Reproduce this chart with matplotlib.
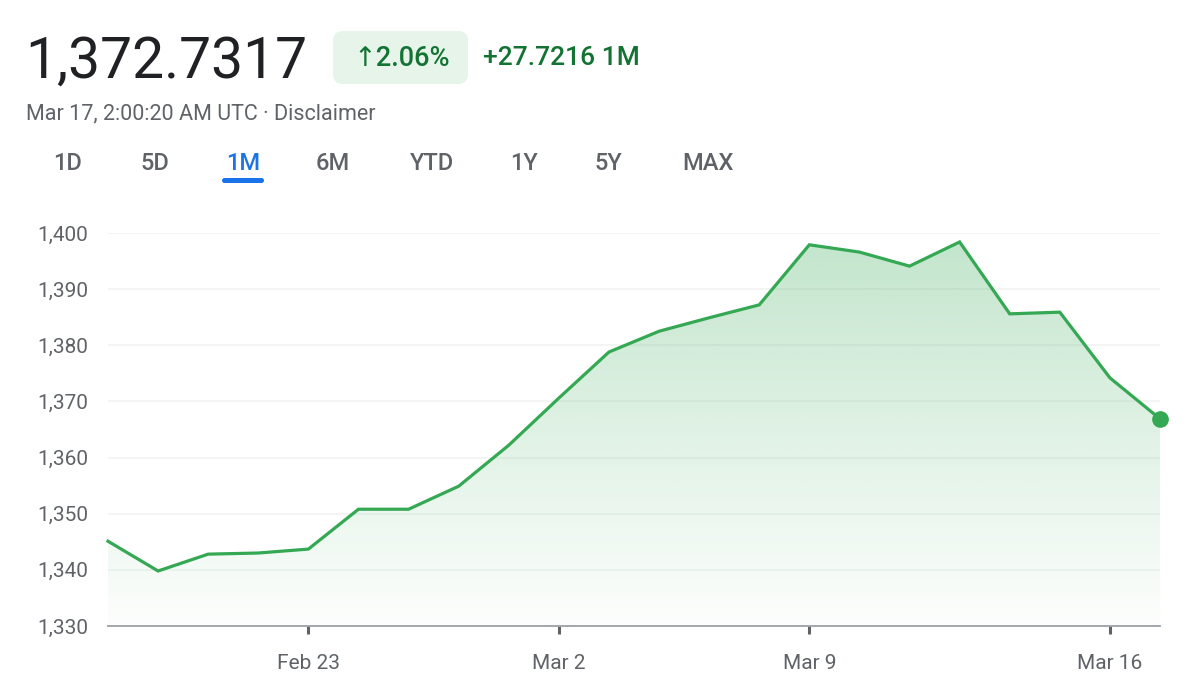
import numpy as np
import matplotlib
matplotlib.use("Agg")
import matplotlib.pyplot as plt
from matplotlib.patches import FancyBboxPatch
from matplotlib.colors import LinearSegmentedColormap

plt.rcParams["font.family"] = ["Roboto", "DejaVu Sans"]

# daily closes, one point per trading day
prices = [1345.1, 1339.8, 1342.8, 1343.0, 1343.7, 1350.8, 1350.8, 1354.9,
          1362.2, 1370.6, 1378.8, 1382.5, 1384.9, 1387.2, 1397.9, 1396.6,
          1394.1, 1398.4, 1385.6, 1385.9, 1374.2, 1366.9]
tick_idx = [4, 9, 14, 20]
tick_labels = ["Feb 23", "Mar 2", "Mar 9", "Mar 16"]
y_ticks = [1330, 1340, 1350, 1360, 1370, 1380, 1390, 1400]
tabs = ["1D", "5D", "1M", "6M", "YTD", "1Y", "5Y", "MAX"]
tab_x = [68, 155, 243, 333, 432, 524, 608, 708]

GREEN = "#34a853"
DARK_GREEN = "#137333"
GRAY = "#5f6368"
BLUE = "#1a73e8"

W, H = 1194, 700
fig = plt.figure(figsize=(W / 100, H / 100), dpi=100)

# header drawn in pixel coords on an overlay axes
hdr = fig.add_axes([0, 0, 1, 1])
hdr.set_xlim(0, W)
hdr.set_ylim(H, 0)
hdr.axis("off")

hdr.text(25, 62, "1,372.7317", fontsize=41, color="#202124", va="center", ha="left")
badge = FancyBboxPatch((333, 31), 135, 53, boxstyle="round,pad=0,rounding_size=10",
                       fc="#e6f4ea", ec="none")
hdr.add_patch(badge)
hdr.text(402, 58, "↑2.06%", fontsize=19.5, color=DARK_GREEN, va="center", ha="center",
         fontweight="medium")
hdr.text(483, 58, "+27.7216 1M", fontsize=19, color=DARK_GREEN, va="center", ha="left",
         fontweight="medium")
hdr.text(26, 114, "Mar 17, 2:00:20 AM UTC · Disclaimer", fontsize=15.5, color=GRAY,
         va="center", ha="left")

for name, x in zip(tabs, tab_x):
    col = BLUE if name == "1M" else GRAY
    hdr.text(x, 163, name, fontsize=17, color=col, va="center", ha="center",
             fontweight="medium")
underline = FancyBboxPatch((222, 178), 42, 5, boxstyle="round,pad=0,rounding_size=2.5",
                           fc=BLUE, ec="none")
hdr.add_patch(underline)

# chart
ax = fig.add_axes([108 / W, 1 - 626 / H, (1160 - 108) / W, (626 - 233) / H])
x = np.arange(len(prices))
ax.set_xlim(0, 21)
ax.set_ylim(1330, 1400)

# gradient fill under the line
cmap = LinearSegmentedColormap.from_list(
    "g", [(52 / 255, 168 / 255, 83 / 255, 0.0), (52 / 255, 168 / 255, 83 / 255, 0.30)])
grad = np.linspace(0.04, 1.0, 256).reshape(-1, 1)
img = ax.imshow(grad, cmap=cmap, vmin=0, vmax=1, aspect="auto", origin="lower",
                extent=[0, 21, 1330, 1400], zorder=1)
poly = ax.fill_between(x, prices, 1330, color="none", lw=0)
img.set_clip_path(poly.get_paths()[0], transform=ax.transData)

for yt in y_ticks[1:]:
    ax.axhline(yt, color="#f1f3f4", lw=1.2, zorder=0.5)

ax.plot(x, prices, color=GREEN, lw=2.3, zorder=3, solid_joinstyle="miter", clip_on=False)
ax.plot(x[-1], prices[-1], "o", color=GREEN, ms=11, zorder=4, clip_on=False)

for s in ["top", "right", "left"]:
    ax.spines[s].set_visible(False)
ax.spines["bottom"].set_color("#9aa0a6")
ax.spines["bottom"].set_linewidth(1.3)

ax.set_yticks(y_ticks)
ax.set_yticklabels([f"{v:,}" for v in y_ticks])
ax.tick_params(axis="y", length=0, pad=14, labelsize=15, labelcolor=GRAY)
ax.set_xticks(tick_idx)
ax.set_xticklabels(tick_labels)
ax.tick_params(axis="x", length=6, width=2.2, color="#5f6368", pad=14,
               labelsize=15, labelcolor=GRAY)

fig.savefig("out.png", dpi=100)
